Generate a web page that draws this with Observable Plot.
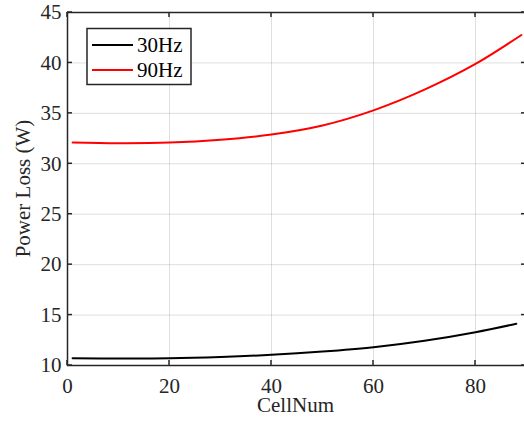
<!DOCTYPE html>
<html><head><meta charset="utf-8">
<script src="https://cdn.jsdelivr.net/npm/d3@7"></script>
<script src="https://cdn.jsdelivr.net/npm/@observablehq/plot@0.6"></script>
<style>html,body{margin:0;padding:0;background:#fff;overflow:hidden}#c{width:524px;height:424px;overflow:hidden}#c svg{max-width:none !important}</style>
</head><body><div id="c"></div>
<script>
const cellNum30 = [1, 10, 20, 30, 40, 50, 60, 70, 80, 88];
const loss30 = [10.72, 10.70, 10.72, 10.85, 11.06, 11.38, 11.81, 12.45, 13.30, 14.14];
const cellNum90 = [1, 10, 20, 30, 40, 50, 60, 70, 80, 89];
const loss90 = [32.12, 32.04, 32.10, 32.38, 32.90, 33.80, 35.30, 37.35, 39.90, 42.77];
const xTicks = [0, 20, 40, 60, 80];
const yTicks = [10, 15, 20, 25, 30, 35, 40, 45];
const seriesNames = ["30Hz", "90Hz"];
const seriesColors = ["#000000", "#ff0000"];

const d30 = cellNum30.map((c, i) => ({c, v: loss30[i]}));
const d90 = cellNum90.map((c, i) => ({c, v: loss90[i]}));
const ink = "#262626";
const font = "Liberation Serif, Times New Roman, serif";

const plot = Plot.plot({
  width: 527, height: 424,
  marginLeft: 67, marginRight: 1, marginTop: 12, marginBottom: 59,
  style: {fontFamily: font, fontSize: "21px", color: ink, background: "#fff", maxWidth: "none"},
  x: {domain: [0, 90]},
  y: {domain: [10, 45]},
  marks: [
    Plot.gridX(xTicks, {stroke: ink, strokeOpacity: 0.15, strokeWidth: 1}),
    Plot.gridY(yTicks, {stroke: ink, strokeOpacity: 0.15, strokeWidth: 1}),
    Plot.line(d30, {x: "c", y: "v", stroke: seriesColors[0], strokeWidth: 2, curve: "catmull-rom"}),
    Plot.line(d90, {x: "c", y: "v", stroke: seriesColors[1], strokeWidth: 2, curve: "catmull-rom"}),
    Plot.frame({stroke: ink, strokeWidth: 1.5}),
    Plot.axisX(xTicks, {tickSize: 0, tickPadding: 13, label: null, fill: ink}),
    Plot.axisY(yTicks, {tickSize: 0, tickPadding: 6, label: null, fill: ink})
  ]
});
document.getElementById("c").appendChild(plot);

const x = plot.scale("x"), y = plot.scale("y");
const svg = d3.select(plot);
const [x0, x1] = x.range, [y0, y1] = y.range; // y0 bottom, y1 top
const g = svg.append("g").attr("stroke", ink).attr("stroke-width", 1.5);
const tl = 5;
for (const t of xTicks) {
  const px = x.apply(t);
  g.append("line").attr("x1", px).attr("x2", px).attr("y1", y0).attr("y2", y0 - tl);
  g.append("line").attr("x1", px).attr("x2", px).attr("y1", y1).attr("y2", y1 + tl);
}
for (const t of yTicks) {
  const py = y.apply(t);
  g.append("line").attr("y1", py).attr("y2", py).attr("x1", x0).attr("x2", x0 + tl);
  g.append("line").attr("y1", py).attr("y2", py).attr("x1", x1).attr("x2", x1 - tl);
}

// axis titles
svg.append("text").attr("x", (x0 + x1) / 2 - 1).attr("y", 411.5)
  .attr("text-anchor", "middle").attr("fill", ink).attr("font-family", font).attr("font-size", 21)
  .text("CellNum");
svg.append("text").attr("transform", `translate(30,${(y0 + y1) / 2}) rotate(-90)`)
  .attr("text-anchor", "middle").attr("fill", ink).attr("font-family", font).attr("font-size", 21)
  .text("Power Loss (W)");

// legend
const lg = svg.append("g").attr("font-family", font).attr("font-size", 21).attr("text-anchor", "start");
lg.append("rect").attr("x", 87).attr("y", 28.5).attr("width", 104).attr("height", 56)
  .attr("fill", "#fff").attr("stroke", ink).attr("stroke-width", 1.5);
seriesNames.forEach((name, i) => {
  const cy = 45 + i * 25;
  lg.append("line").attr("x1", 92).attr("x2", 133).attr("y1", cy).attr("y2", cy)
    .attr("stroke", seriesColors[i]).attr("stroke-width", 2);
  lg.append("text").attr("x", 137).attr("y", cy).attr("dy", "0.34em").attr("fill", "#000").text(name);
});
</script>
</body></html>
